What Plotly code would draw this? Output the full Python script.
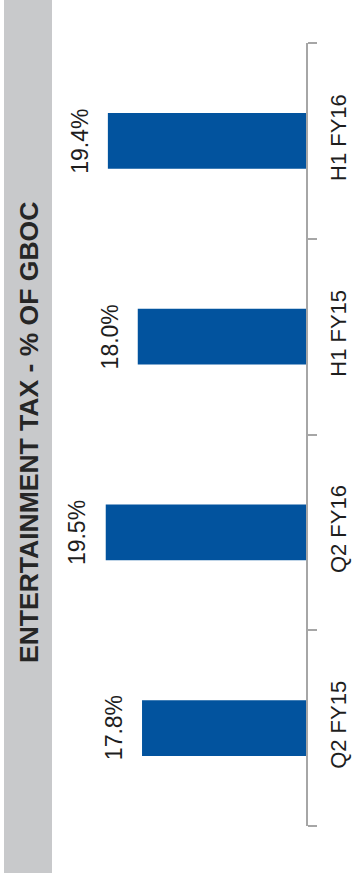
import plotly.graph_objects as go

# Entertainment tax as a share of GBOC, by reporting period
categories = ["Q2 FY15", "Q2 FY16", "H1 FY15", "H1 FY16"]
values = [17.8, 19.5, 18.0, 19.4]
value_labels = ["17.8%", "19.5%", "18.0%", "19.4%"]
title_text = "ENTERTAINMENT TAX - % OF GBOC"

W, H = 359, 880
L, R, T, B = 56, 53, 43, 54          # plot area: x 56..306, y 43..826
plot_w = W - L - R
plot_h = H - T - B

BAR_COLOR = "#02539e"
AXIS_GREY = "#a6a6a6"
TEXT_COLOR = "#1e1e1e"
BAND_GREY = "#c8c9cb"
LABEL_FONT = "Liberation Sans, Arial, sans-serif"

fig = go.Figure(
    go.Bar(
        x=values,
        y=categories,
        orientation="h",
        marker=dict(color=BAR_COLOR, line=dict(width=0)),
        hoverinfo="skip",
    )
)

# value labels sit just past the end of each bar, rotated to read upward
for cat, val, lab in zip(categories, values, value_labels):
    fig.add_annotation(
        x=val, y=cat, xref="x", yref="y",
        text=lab, textangle=-90, showarrow=False,
        xanchor="center", yanchor="middle", xshift=-28,
        font=dict(family=LABEL_FONT, size=23, color=TEXT_COLOR),
    )

# grey title band along the left edge
def px_to_paper_x(px):
    return (px - L) / plot_w

def px_to_paper_y(py):
    return (H - B - py) / plot_h

fig.add_shape(
    type="rect", xref="paper", yref="paper",
    x0=px_to_paper_x(4), x1=px_to_paper_x(52),
    y0=px_to_paper_y(873), y1=px_to_paper_y(0),
    fillcolor=BAND_GREY, line=dict(width=0), layer="below",
)
fig.add_annotation(
    x=px_to_paper_x(28.5), y=px_to_paper_y(432.5), xref="paper", yref="paper",
    text="<b>" + title_text + "</b>", textangle=-90, showarrow=False,
    xanchor="center", yanchor="middle",
    font=dict(family="Liberation Sans, Arial, sans-serif", size=26.5, color="#262626"),
)

x_lo = 10.12
x_hi = x_lo + plot_w / 21.35

fig.update_layout(
    width=W, height=H,
    margin=dict(l=L, r=R, t=T, b=B, pad=0, autoexpand=False),
    paper_bgcolor="white", plot_bgcolor="white",
    showlegend=False,
    bargap=0.714,
    xaxis=dict(range=[x_hi, x_lo], visible=False, fixedrange=True, automargin=False),
    yaxis=dict(
        type="category",
        categoryorder="array", categoryarray=categories,
        side="right", automargin=False,
        showline=True, linecolor=AXIS_GREY, linewidth=1.5,
        ticks="outside", tickson="boundaries", ticklen=9,
        tickcolor=AXIS_GREY, tickwidth=1.5,
        tickangle=-90, ticklabelstandoff=12,
        tickfont=dict(family=LABEL_FONT, size=22, color=TEXT_COLOR),
        showgrid=False, zeroline=False, fixedrange=True,
    ),
)

fig.write_html("out.html", config={"displayModeBar": False})
